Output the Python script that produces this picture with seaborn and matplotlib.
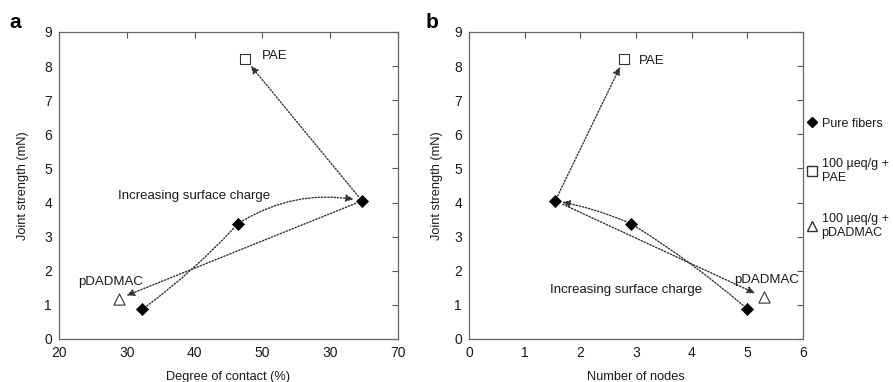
import matplotlib
matplotlib.use("Agg")
import matplotlib.pyplot as plt
import seaborn as sns
import pandas as pd
from matplotlib.lines import Line2D

# ---- data ----
pure_contact = [32.3, 46.4, 64.7]
pure_strength_a = [0.87, 3.38, 4.05]
pae_contact = [47.5]
pae_strength_a = [8.2]
pdadmac_contact = [28.8]
pdadmac_strength_a = [1.18]

pure_nodes = [5.0, 2.91, 1.55]
pure_strength_b = [0.88, 3.38, 4.05]
pae_nodes = [2.78]
pae_strength_b = [8.2]
pdadmac_nodes = [5.3]
pdadmac_strength_b = [1.22]

xticks_a = [20, 30, 40, 50, 60, 70]
xticklabels_a = ["20", "30", "40", "50", "30", "70"]
xticks_b = [0, 1, 2, 3, 4, 5, 6]
yticks = list(range(10))

legend_labels = ["Pure fibers", "100 \u00b5eq/g +\nPAE", "100 \u00b5eq/g +\npDADMAC"]

sns.set_theme(style="white")
plt.rcParams["font.family"] = ["Liberation Sans", "DejaVu Sans"]
plt.rcParams["text.color"] = "#1a1a1a"

fig = plt.figure(figsize=(8.93, 3.82), dpi=100)
ax_a = fig.add_axes([0.066, 0.1126, 0.3796, 0.8037])
ax_b = fig.add_axes([0.5252, 0.1126, 0.374, 0.8037])

COL = "#1a1a1a"


def draw_points(ax, px, py, ax_x, ay, tx, ty):
    sns.scatterplot(x=px, y=py, ax=ax, marker="D", s=38, color="black",
                    edgecolor="black", linewidth=0.5, legend=False, zorder=5)
    sns.scatterplot(x=ax_x, y=ay, ax=ax, marker="s", s=55, facecolor="white",
                    edgecolor="#333333", linewidth=0.8, legend=False, zorder=5)
    sns.scatterplot(x=tx, y=ty, ax=ax, marker="^", s=65, facecolor="white",
                    edgecolor="#333333", linewidth=0.8, legend=False, zorder=5)


def arrow(ax, start, end, rad=0.0, head=True, sa=4, sb=6):
    style = "-|>,head_length=0.38,head_width=0.17" if head else "-"
    ax.annotate("", xy=end, xytext=start,
                arrowprops=dict(arrowstyle=style, linestyle=(0, (1.0, 1.3)),
                                lw=1.0, color="#333333", shrinkA=sa, shrinkB=sb,
                                connectionstyle=f"arc3,rad={rad}"), zorder=3)


def style_axes(ax, xlim, xticks, ylabelpad):
    ax.set_xlim(*xlim)
    ax.set_ylim(0, 9)
    ax.set_xticks(xticks)
    ax.set_yticks(yticks)
    ax.tick_params(direction="in", length=4, width=0.8, colors="#555555",
                   top=True, right=True, labelsize=10, labelcolor=COL, pad=5)
    for sp in ax.spines.values():
        sp.set_color("#666666")
        sp.set_linewidth(0.9)
    ax.set_ylabel("Joint strength (mN)", fontsize=9.2, color=COL, labelpad=ylabelpad)


# ---- panel a ----
draw_points(ax_a, pure_contact, pure_strength_a, pae_contact, pae_strength_a,
            pdadmac_contact, pdadmac_strength_a)
p1a = (pure_contact[0], pure_strength_a[0])
p2a = (pure_contact[1], pure_strength_a[1])
p3a = (pure_contact[2], pure_strength_a[2])
arrow(ax_a, p3a, (pae_contact[0], pae_strength_a[0]), 0.0, True, 4, 6)
arrow(ax_a, p1a, p2a, 0.05, False, 4, 4)
arrow(ax_a, p2a, p3a, -0.2, True, 4, 6)
arrow(ax_a, p3a, (pdadmac_contact[0], pdadmac_strength_a[0]), 0.0, True, 5, 6)
style_axes(ax_a, (20, 70), xticks_a, 11)
ax_a.set_xticklabels(xticklabels_a)
ax_a.set_xlabel("Degree of contact (%)", fontsize=9.2, color=COL, labelpad=8)
ax_a.text(pae_contact[0] + 2.4, pae_strength_a[0] + 0.1, "PAE", fontsize=9.5,
          ha="left", va="center")
ax_a.text(pdadmac_contact[0] - 1.2, pdadmac_strength_a[0] + 0.5, "pDADMAC",
          fontsize=9.5, ha="center", va="center")
ax_a.text(40.0, 4.2, "Increasing surface charge", fontsize=9.5, ha="center",
          va="center")

# ---- panel b ----
draw_points(ax_b, pure_nodes, pure_strength_b, pae_nodes, pae_strength_b,
            pdadmac_nodes, pdadmac_strength_b)
p1b = (pure_nodes[0], pure_strength_b[0])
p2b = (pure_nodes[1], pure_strength_b[1])
p3b = (pure_nodes[2], pure_strength_b[2])
arrow(ax_b, p3b, (pae_nodes[0], pae_strength_b[0]), 0.0, True, 4, 6)
arrow(ax_b, p1b, p2b, 0.04, False, 4, 4)
arrow(ax_b, p2b, p3b, 0.06, True, 4, 5)
arrow(ax_b, p3b, (pdadmac_nodes[0], pdadmac_strength_b[0]), 0.0, True, 6, 7)
style_axes(ax_b, (0, 6), xticks_b, 8)
ax_b.set_xlabel("Number of nodes", fontsize=9.2, color=COL, labelpad=8)
ax_b.text(pae_nodes[0] + 0.27, pae_strength_b[0] - 0.05, "PAE", fontsize=9.5,
          ha="left", va="center")
ax_b.text(pdadmac_nodes[0] + 0.05, pdadmac_strength_b[0] + 0.5, "pDADMAC",
          fontsize=9.5, ha="center", va="center")
ax_b.text(2.82, 1.44, "Increasing surface charge", fontsize=9.5, ha="center",
          va="center")

# ---- legend ----
handles = [
    Line2D([], [], marker="D", color="black", markersize=5, linestyle="none"),
    Line2D([], [], marker="s", markerfacecolor="white", markeredgecolor="#333333",
           markersize=6.5, linestyle="none"),
    Line2D([], [], marker="^", markerfacecolor="white", markeredgecolor="#333333",
           markersize=7, linestyle="none"),
]
fig.legend(handles, legend_labels, loc="upper left", bbox_to_anchor=(0.897, 0.705),
           frameon=False, fontsize=9, handletextpad=0.25, handlelength=1.0,
           labelspacing=2.3, borderaxespad=0)

# panel letters
fig.text(0.010, 0.965, "a", fontsize=15, fontweight="bold", va="top", color="black")
fig.text(0.477, 0.965, "b", fontsize=15, fontweight="bold", va="top", color="black")

fig.savefig("out.png", dpi=100)
